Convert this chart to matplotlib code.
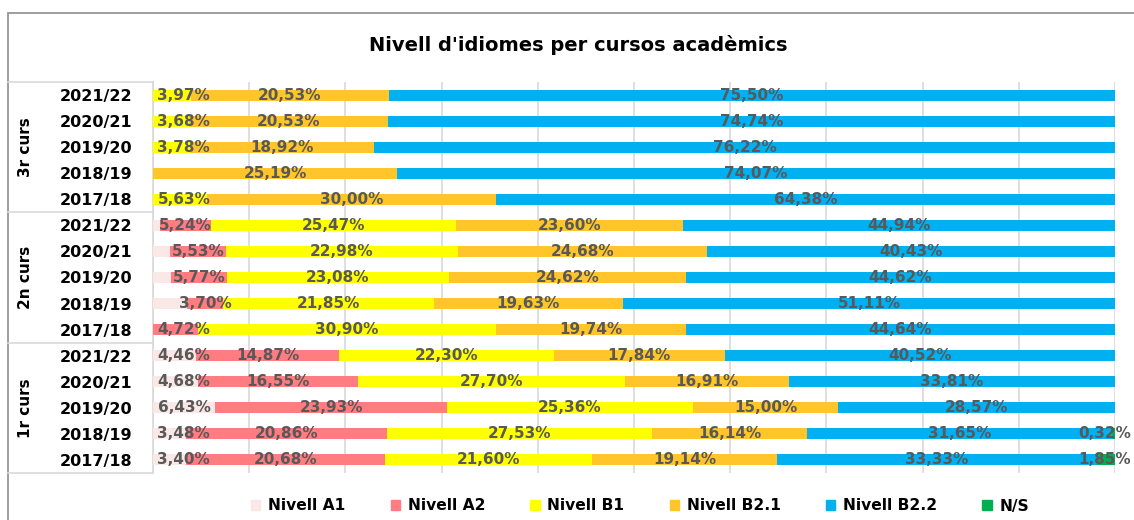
import matplotlib
matplotlib.use("Agg")
import matplotlib.pyplot as plt
import numpy as np
from matplotlib.patches import Rectangle
from matplotlib.lines import Line2D
from matplotlib.transforms import blended_transform_factory

plt.rcParams['font.family'] = ['DejaVu Sans']

# ---- data (rows listed top to bottom) ----
groups = ['3r curs', '2n curs', '1r curs']
years = ['2021/22', '2020/21', '2019/20', '2018/19', '2017/18']
series_names = ['Nivell A1', 'Nivell A2', 'Nivell B1', 'Nivell B2.1', 'Nivell B2.2', 'N/S']
colors = ['#FAE8E6', '#FF7C80', '#FFFF00', '#FFC52B', '#00B0F0', '#00B050']

nivell_a1 = [0, 0, 0, 0, 0, 0.75, 1.70, 1.92, 3.57, 0, 4.46, 4.68, 6.43, 3.48, 3.40]
nivell_a2 = [0, 0, 0, 0, 0, 5.24, 5.53, 5.77, 3.70, 4.72, 14.87, 16.55, 23.93, 20.86, 20.68]
nivell_b1 = [3.97, 3.68, 3.78, 0, 5.63, 25.47, 22.98, 23.08, 21.85, 30.90, 22.30, 27.70, 25.36, 27.53, 21.60]
nivell_b21 = [20.53, 20.53, 18.92, 25.19, 30.00, 23.60, 24.68, 24.62, 19.63, 19.74, 17.84, 16.91, 15.00, 16.14, 19.14]
nivell_b22 = [75.50, 74.74, 76.22, 74.07, 64.38, 44.94, 40.43, 44.62, 51.11, 44.64, 40.52, 33.81, 28.57, 31.65, 33.33]
nivell_ns = [0] * 13 + [0.32, 1.85]
# A1 values in 2n curs whose labels are not shown in the original
a1_label_hidden = [False] * 5 + [True, True, True, True, False] + [False] * 5

data = np.array([nivell_a1, nivell_a2, nivell_b1, nivell_b21, nivell_b22, nivell_ns], dtype=float)
totals = data.sum(axis=0)
norm = data / totals * 100.0

W, H = 1134, 520
fig = plt.figure(figsize=(W / 100, H / 100), dpi=100)
ax = fig.add_axes([153 / W, (H - 473) / H, (1115 - 153) / W, (473 - 82) / H])

n = len(nivell_a1)
y = np.arange(n)
left = np.zeros(n)
for i, name in enumerate(series_names):
    ax.barh(y, norm[i], left=left, height=0.42, color=colors[i], label=name, zorder=3)
    for r in range(n):
        v = data[i, r]
        if v <= 0:
            continue
        if i == 0 and a1_label_hidden[r]:
            continue
        cx = left[r] + norm[i, r] / 2
        cx = min(max(cx, 3.2), 98.9)
        txt = f"{v:.2f}%".replace('.', ',')
        ax.text(cx, r, txt, ha='center', va='center', fontsize=11, fontweight='bold',
                color='#595959', zorder=5)
    left += norm[i]

ax.set_xlim(0, 100)
ax.set_ylim(n - 0.5, -0.5)
ax.set_xticks(np.arange(0, 101, 10))
ax.xaxis.grid(True, color='#D9D9D9', lw=1.2, zorder=0)
ax.tick_params(axis='x', length=0, labelbottom=False)
ax.set_yticks(y)
ax.set_yticklabels(years * len(groups), fontsize=11.5, fontweight='bold', color='black')
ax.tick_params(axis='y', length=0, pad=15)
for s in ['top', 'right', 'bottom']:
    ax.spines[s].set_visible(False)
ax.spines['left'].set_color('#D9D9D9')
ax.spines['left'].set_linewidth(1.2)

# group separators and group labels
tr = blended_transform_factory(fig.transFigure, ax.transData)
for g in range(len(groups) + 1):
    yy = g * len(years) - 0.5
    fig.add_artist(Line2D([8 / W, 153 / W], [yy, yy], transform=tr, color='#D9D9D9', lw=1.2))
for g, name in enumerate(groups):
    yc = g * len(years) + (len(years) - 1) / 2
    fig.text(25 / W, yc, name, transform=tr, rotation=90, ha='center', va='center',
             fontsize=11, fontweight='bold', color='black')

# outer chart frame (partially cropped)
fig.add_artist(Rectangle((8 / W, -0.1), 1.2, (H - 13) / H + 0.1, transform=fig.transFigure,
                         fill=False, edgecolor='#8C8C8C', lw=1.2))

fig.text(578 / W, (H - 45) / H, "Nivell d'idiomes per cursos acadèmics", ha='center', va='center',
         fontsize=14, fontweight='bold', color='black')

handles = [Rectangle((0, 0), 1, 1, color=c) for c in colors]
leg = fig.legend(handles, series_names, loc='center', bbox_to_anchor=(640 / W, (H - 506) / H),
                 ncol=6, frameon=False, handlelength=0.6, handleheight=0.6, handletextpad=0.5,
                 columnspacing=2.9, prop={'size': 11.2, 'weight': 'bold'})

fig.savefig('out.png', dpi=100, facecolor='white')
